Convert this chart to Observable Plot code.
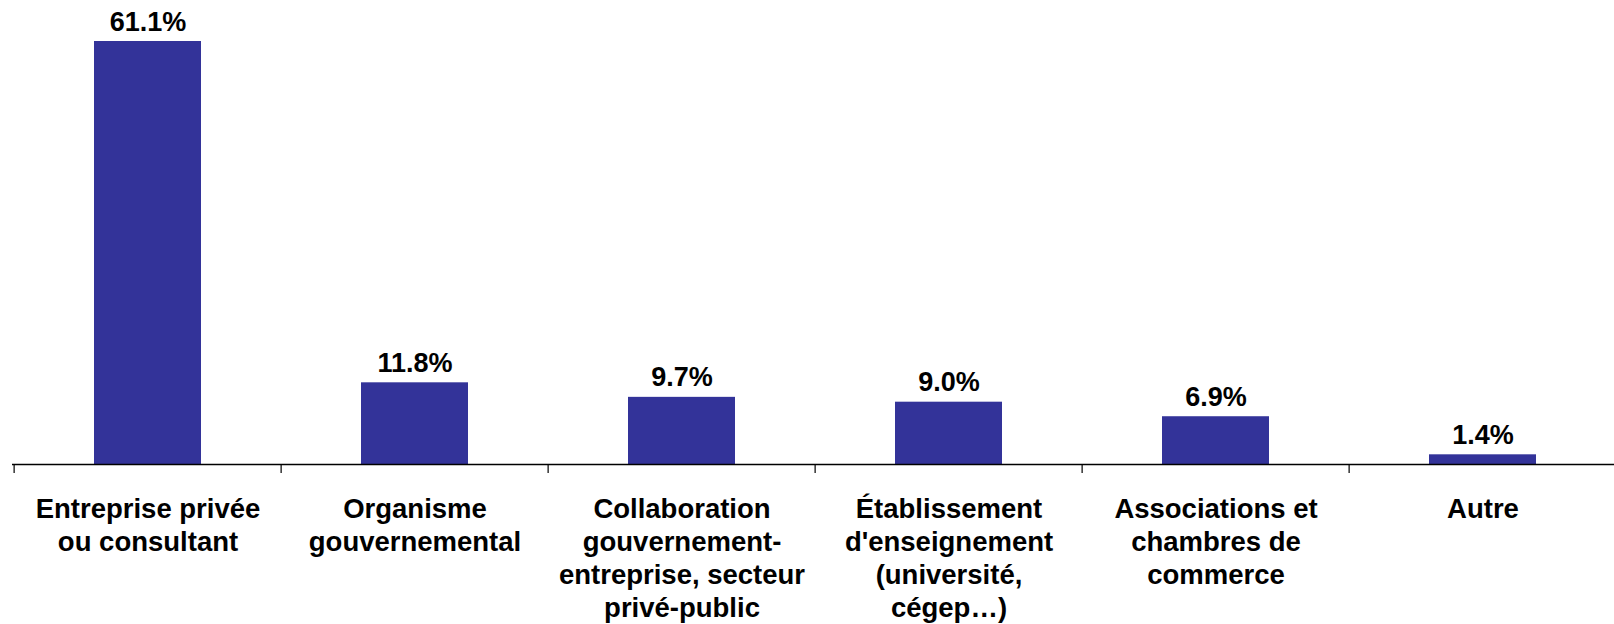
<!DOCTYPE html>
<html>
<head>
<meta charset="utf-8">
<script src="https://cdn.jsdelivr.net/npm/d3@7"></script>
<script src="https://cdn.jsdelivr.net/npm/@observablehq/plot@0.6"></script>
<style>
  html, body { margin: 0; padding: 0; background: #fff; overflow: hidden; }
  #chart svg { display: block; }
</style>
</head>
<body>
<div id="chart"></div>
<script>
const categories = [
  "Entreprise privée ou consultant",
  "Organisme gouvernemental",
  "Collaboration gouvernement-entreprise, secteur privé-public",
  "Établissement d'enseignement (université, cégep…)",
  "Associations et chambres de commerce",
  "Autre"
];
const tickLabels = [
  "Entreprise privée\nou consultant",
  "Organisme\ngouvernemental",
  "Collaboration\ngouvernement-\nentreprise, secteur\nprivé-public",
  "Établissement\nd'enseignement\n(université,\ncégep…)",
  "Associations et\nchambres de\ncommerce",
  "Autre"
];
const values = [61.1, 11.8, 9.7, 9.0, 6.9, 1.4];

const data = categories.map((c, i) => ({category: c, value: values[i], label: values[i].toFixed(1) + "%"}));
const labelOf = new Map(categories.map((c, i) => [c, tickLabels[i]]));

const W = 1614, H = 624;
const xRange = [12, 1618.5];
const halfStep = (xRange[1] - xRange[0]) / categories.length / 2;
const font = "'Liberation Sans', Arial, sans-serif";

const chart = Plot.plot({
  width: W,
  height: H,
  marginTop: 41,
  marginBottom: 160,
  marginLeft: 12,
  marginRight: 0,
  style: {fontFamily: font, background: "#fff"},
  x: {domain: categories, range: xRange, paddingInner: 0.6, paddingOuter: 0.3, label: null},
  y: {domain: [0, d3.max(values)], axis: null},
  marks: [
    Plot.barY(data, {x: "category", y: "value", fill: "#333399"}),
    Plot.ruleY([0], {stroke: "#000", strokeWidth: 1.4}),
    Plot.axisX({tickSize: 9, dx: -halfStep, text: null, label: null, stroke: "#000", strokeWidth: 1.2, strokeOpacity: 1}),
    Plot.axisX({
      tickSize: 0,
      tickPadding: 30,
      tickFormat: d => labelOf.get(d),
      label: null,
      lineWidth: Infinity,
      lineHeight: 1.2,
      fontSize: 27.5,
      fontWeight: "bold",
      fill: "#000",
      lineAnchor: "top"
    }),
    Plot.text(data, {
      x: "category", y: "value", text: "label",
      dy: -11, lineAnchor: "bottom",
      fontSize: 27, fontWeight: "bold", fill: "#000"
    })
  ]
});
document.getElementById("chart").appendChild(chart);
</script>
</body>
</html>
